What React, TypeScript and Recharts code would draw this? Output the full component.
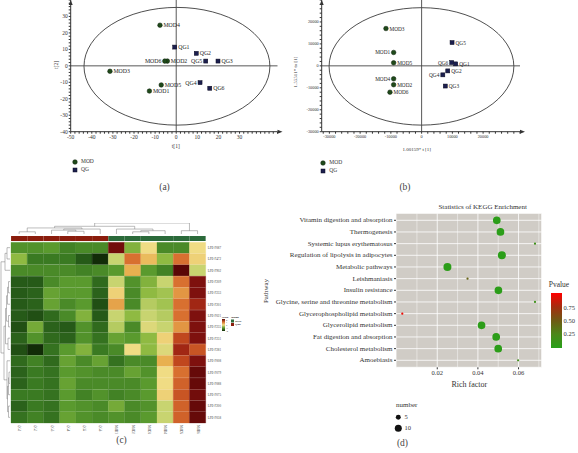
import React from 'react';
import {
  ScatterChart,
  Scatter,
  XAxis,
  YAxis,
  ZAxis,
  ReferenceLine,
  ReferenceArea,
  ReferenceDot,
  BarChart,
  Bar,
  Cell,
  LineChart,
  CartesianGrid,
} from 'recharts';

const SERIF = '"Liberation Serif", "DejaVu Serif", serif';

// ---------- (a) PCA scores t[1] / t[2]
const pcaAMod = [
  { name: 'MOD1', x: -12.7, y: -15.3 },
  { name: 'MOD2', x: -4.2, y: 2.9 },
  { name: 'MOD3', x: -31.4, y: -3.3 },
  { name: 'MOD4', x: -7.7, y: 24.7 },
  { name: 'MOD5', x: -7.1, y: -11.6 },
  { name: 'MOD6', x: -5.4, y: 2.9 },
];
const pcaAQg = [
  { name: 'QG1', x: -0.7, y: 11.4 },
  { name: 'QG2', x: 9.5, y: 7.6 },
  { name: 'QG3', x: 19.8, y: 2.9 },
  { name: 'QG4', x: 11.3, y: -10.2 },
  { name: 'QG5', x: 14.0, y: 2.9 },
  { name: 'QG6', x: 15.9, y: -13.6 },
];
const ellipseA = [-43.7, 44.4, -36, 35.5];
const leftLabelsA = ['MOD6', 'QG5', 'QG4'];

// ---------- (b) OPLS-DA scores
const pcaBMod = [
  { name: 'MOD1', x: -9100, y: 6100 },
  { name: 'MOD2', x: -9100, y: -8600 },
  { name: 'MOD3', x: -11600, y: 17000 },
  { name: 'MOD4', x: -9100, y: -5900 },
  { name: 'MOD5', x: -9100, y: 1400 },
  { name: 'MOD6', x: -10300, y: -12000 },
];
const pcaBQg = [
  { name: 'QG1', x: 11100, y: 900 },
  { name: 'QG2', x: 8500, y: -2300 },
  { name: 'QG3', x: 7700, y: -9200 },
  { name: 'QG4', x: 6900, y: -4100 },
  { name: 'QG5', x: 9900, y: 10600 },
  { name: 'QG6', x: 9800, y: 1500 },
];
const ellipseB = [-30100, 30000, -27000, 26500];
const leftLabelsB = ['MOD1', 'MOD4', 'QG6', 'QG4'];

// ---------- (c) heatmap
const heatCols = ['QG1', 'QG2', 'QG3', 'QG4', 'QG5', 'QG6', 'MOD1', 'MOD2', 'MOD3', 'MOD4', 'MOD5', 'MOD6'];
const heatGroups = ['QG', 'QG', 'QG', 'QG', 'QG', 'QG', 'MOD', 'MOD', 'MOD', 'MOD', 'MOD', 'MOD'];
const heatRows = [
  'LPE-F087', 'LPE-F472', 'LPE-F902', 'LPE-F209', 'LPE-F233', 'LPE-F201', 'LPE-F021', 'LPE-F235',
  'LPE-F231', 'LPE-F281', 'LPE-F008', 'LPE-F079', 'LPE-F088', 'LPE-F075', 'LPE-F200', 'LPE-F058',
];
const heatValues = [
  [-0.9, -0.9, -0.8, -1.1, -1.0, -1.0, 2.0, -0.5, 0.1, -1.0, -1.0, 0.1],
  [-0.4, -1.2, -1.2, -1.2, -1.6, -2.0, -0.1, 1.0, 0.4, -0.4, 1.0, 0.2],
  [-1.0, -1.0, -1.0, -1.0, -1.1, -1.0, -0.8, 0.5, -0.8, -1.1, 2.2, -0.1],
  [-1.6, -1.6, -1.0, -0.8, -0.8, -1.4, -0.1, -0.9, -0.5, -0.1, 1.0, 1.9],
  [-1.6, -1.5, -0.7, -0.8, -0.8, -1.5, 0.2, -1.0, -0.4, -0.3, 0.7, 1.9],
  [-1.6, -1.5, -0.7, -1.0, -0.8, -1.7, 0.6, -1.0, -0.2, -0.3, 1.0, 1.6],
  [-1.6, -1.7, -1.4, -1.0, -0.5, -1.6, -0.1, -0.4, -0.1, -0.2, 1.0, 1.9],
  [-1.7, -0.6, -1.5, -1.6, -0.9, -1.4, -0.2, -1.0, 0.0, -0.1, 0.7, 1.9],
  [-1.5, -0.9, -1.4, -1.5, -0.9, -1.3, -0.7, -0.8, -0.4, 0.2, 1.3, 1.9],
  [-1.7, -2.0, -1.3, -0.8, -0.5, -1.2, -1.0, 0.1, -0.4, 0.0, 1.6, 1.2],
  [-1.4, -1.1, -1.4, -0.7, -1.0, -0.7, -1.3, -1.0, -1.0, 0.5, 1.3, 1.9],
  [-1.5, -1.2, -1.3, -0.8, -0.9, -1.0, -1.0, -0.7, -0.9, 0.1, 1.0, 2.1],
  [-1.5, -1.2, -1.3, -0.7, -1.0, -1.0, -1.0, -1.0, -0.8, 0.1, 1.1, 2.1],
  [-1.2, -1.2, -1.3, -0.8, -1.1, -0.9, -1.1, -1.0, -0.8, 0.2, 1.2, 2.0],
  [-1.5, -1.2, -1.3, -0.8, -0.9, -1.0, -0.6, -1.0, -0.9, -0.1, 1.1, 2.1],
  [-1.3, -1.1, -1.3, -0.7, -0.9, -1.0, -0.9, -1.0, -0.8, -0.1, 1.1, 2.1],
];
// dendrogram merges: [childA, childB, height]; leaves are 0..n-1, merge k makes node n+k
const colMerges: [number, number, number][] = [
  [0, 1, 2], [3, 4, 2.5], [2, 13, 3.5], [14, 5, 4.5], [12, 15, 5.5],
  [7, 8, 2], [17, 9, 3], [6, 18, 4.5], [16, 19, 7], [10, 11, 3], [20, 21, 10],
];
const rowMerges: [number, number, number][] = [
  [0, 1, 3], [16, 2, 5], [3, 4, 1.5], [18, 5, 2.5], [6, 7, 1.5], [19, 20, 3.5],
  [8, 9, 2], [21, 22, 4.5], [11, 12, 1], [24, 13, 1.5], [14, 15, 1.5], [25, 26, 2.5],
  [10, 27, 3], [23, 28, 6], [17, 29, 9],
];

// ---------- (d) KEGG enrichment
const pathways = [
  'Vitamin digestion and absorption',
  'Thermogenesis',
  'Systemic lupus erythematosus',
  'Regulation of lipolysis in adipocytes',
  'Metabolic pathways',
  'Leishmaniasis',
  'Insulin resistance',
  'Glycine, serine and threonine metabolism',
  'Glycerophospholipid metabolism',
  'Glycerolipid metabolism',
  'Fat digestion and absorption',
  'Cholesterol metabolism',
  'Amoebiasis',
];
const richFactor = [0.0493, 0.0511, 0.0681, 0.0518, 0.025, 0.0349, 0.0501, 0.0681, 0.0028, 0.0418, 0.049, 0.05, 0.0598];
const geneNumber = [12, 12, 1, 13, 13, 1, 12, 1, 1, 12, 12, 12, 1];
const pValue = [0.03, 0.02, 0.15, 0.02, 0.03, 0.45, 0.03, 0.15, 0.95, 0.03, 0.03, 0.03, 0.18];

// ---------- helpers
type Stop = [number, number[]];
const rgb = (c: number[]) => `rgb(${c.map((x) => Math.round(x)).join(',')})`;
function lerpColor(stops: Stop[], v: number): string {
  if (v <= stops[0][0]) return rgb(stops[0][1]);
  for (let i = 1; i < stops.length; i++) {
    if (v <= stops[i][0]) {
      const [a, ca] = stops[i - 1];
      const [b, cb] = stops[i];
      const t = (v - a) / (b - a);
      return rgb(ca.map((c, k) => c + (cb[k] - c) * t));
    }
  }
  return rgb(stops[stops.length - 1][1]);
}

const heatStops: Stop[] = [
  [-2.0, [18, 44, 8]],
  [-1.6, [38, 90, 24]],
  [-1.2, [58, 122, 34]],
  [-0.8, [90, 154, 46]],
  [-0.4, [143, 186, 66]],
  [-0.1, [200, 212, 112]],
  [0.1, [240, 220, 132]],
  [0.5, [232, 176, 80]],
  [1.0, [216, 112, 48]],
  [1.4, [184, 58, 24]],
  [1.8, [138, 20, 16]],
  [2.2, [90, 6, 6]],
];
const pStops: Stop[] = [
  [0, [40, 160, 25]],
  [0.25, [75, 135, 25]],
  [0.5, [110, 90, 20]],
  [0.75, [165, 45, 15]],
  [1.0, [255, 0, 0]],
];
const heatColor = (v: number) => lerpColor(heatStops, v);
const pColor = (v: number) => lerpColor(pStops, v);
const groupColor = (g: string) => (g === 'MOD' ? '#2b6a3a' : '#8a1c0c');

function dendroSegments(n: number, merges: [number, number, number][]) {
  const pos: number[] = [];
  const hgt: number[] = [];
  for (let i = 0; i < n; i++) {
    pos.push(i + 0.5);
    hgt.push(0);
  }
  const segs: { p1: number; h1: number; p2: number; h2: number }[] = [];
  merges.forEach(([a, b, h]) => {
    segs.push({ p1: pos[a], h1: hgt[a], p2: pos[a], h2: h });
    segs.push({ p1: pos[a], h1: h, p2: pos[b], h2: h });
    segs.push({ p1: pos[b], h1: h, p2: pos[b], h2: hgt[b] });
    pos.push((pos[a] + pos[b]) / 2);
    hgt.push(h);
  });
  return segs;
}

function Txt({ x, y, size, children, rotate = 0, anchor = 'middle', color = '#333', weight = 400 }: any) {
  const tx = anchor === 'start' ? '0' : anchor === 'end' ? '-100%' : '-50%';
  return (
    <div
      style={{
        position: 'absolute',
        left: x,
        top: y,
        fontSize: size,
        lineHeight: 1,
        whiteSpace: 'nowrap',
        color,
        fontWeight: weight,
        transform: `translate(${tx}, -50%) rotate(${rotate}deg)`,
        transformOrigin: anchor === 'start' ? '0 50%' : '50% 50%',
      }}
    >
      {children}
    </div>
  );
}

const range = (a: number, b: number, step: number) => {
  const out: number[] = [];
  for (let v = a; v <= b + 1e-9; v += step) out.push(Math.round(v * 1000) / 1000);
  return out;
};

// ---------- score plot (a) and (b)
function ScorePlot(props: any) {
  const {
    left, width, height, yAxisWidth, rightMargin, xAxisHeight, xDomain, yDomain,
    xTicks, yTicks, fmt, mod, qg, leftLabels, ellipse, tickFont, labelFont,
  } = props;
  const axisTick = { fontSize: tickFont, fill: '#333', fontFamily: SERIF };
  const pointLabel = (cx: number, cy: number, name: string) => {
    const toLeft = leftLabels.includes(name);
    return (
      <text
        x={toLeft ? cx - 3.5 : cx + 3.5}
        y={cy}
        fontSize={labelFont}
        fontFamily={SERIF}
        fill="#222"
        textAnchor={toLeft ? 'end' : 'start'}
        dominantBaseline="central"
      >
        {name}
      </text>
    );
  };
  return (
    <div style={{ position: 'absolute', left, top: 0 }}>
      <ScatterChart width={width} height={height} margin={{ top: 0, right: rightMargin, bottom: 0, left: 0 }}>
        <XAxis
          type="number"
          dataKey="x"
          domain={xDomain}
          ticks={xTicks}
          interval={0}
          tickFormatter={fmt}
          tickSize={2}
          tickMargin={1}
          height={xAxisHeight}
          stroke="#333"
          tick={axisTick}
          allowDataOverflow
        />
        <YAxis
          type="number"
          dataKey="y"
          domain={yDomain}
          ticks={yTicks}
          interval={0}
          tickFormatter={fmt}
          tickSize={2}
          tickMargin={1}
          width={yAxisWidth}
          stroke="#333"
          tick={axisTick}
          allowDataOverflow
        />
        <ReferenceArea
          x1={ellipse[0]}
          x2={ellipse[1]}
          y1={ellipse[2]}
          y2={ellipse[3]}
          ifOverflow="visible"
          shape={(p: any) => (
            <ellipse
              cx={p.x + p.width / 2}
              cy={p.y + p.height / 2}
              rx={p.width / 2}
              ry={p.height / 2}
              fill="none"
              stroke="#222"
              strokeWidth={0.8}
            />
          )}
        />
        <ReferenceLine x={0} stroke="#444" strokeWidth={0.9} />
        <ReferenceLine y={0} stroke="#444" strokeWidth={0.9} />
        <ReferenceDot
          x={xDomain[1]}
          y={yDomain[0]}
          ifOverflow="visible"
          shape={(p: any) => <polygon points={`${p.cx},${p.cy - 2} ${p.cx + 5},${p.cy} ${p.cx},${p.cy + 2}`} fill="#333" />}
        />
        <ReferenceDot
          x={xDomain[0]}
          y={yDomain[1]}
          ifOverflow="visible"
          shape={(p: any) => <polygon points={`${p.cx - 2},${p.cy + 5} ${p.cx},${p.cy} ${p.cx + 2},${p.cy + 5}`} fill="#333" />}
        />
        <Scatter
          data={mod}
          isAnimationActive={false}
          shape={(p: any) => (
            <g>
              <circle cx={p.cx} cy={p.cy} r={2.3} fill="#1f4a1a" stroke="#0c1f0a" strokeWidth={0.5} />
              {pointLabel(p.cx, p.cy, p.payload.name)}
            </g>
          )}
        />
        <Scatter
          data={qg}
          isAnimationActive={false}
          shape={(p: any) => (
            <g>
              <rect x={p.cx - 2} y={p.cy - 2} width={4} height={4} fill="#1c1f4e" stroke="#0a0a20" strokeWidth={0.5} />
              {pointLabel(p.cx, p.cy, p.payload.name)}
            </g>
          )}
        />
      </ScatterChart>
    </div>
  );
}

function ScoreLegend({ x, y, size }: { x: number; y: number; size: number }) {
  return (
    <>
      <svg style={{ position: 'absolute', left: x - 3, top: y - 3 }} width={6} height={16}>
        <circle cx={3} cy={3} r={2.3} fill="#1f4a1a" stroke="#0c1f0a" strokeWidth={0.5} />
        <rect x={1} y={9} width={4} height={4} fill="#1c1f4e" stroke="#0a0a20" strokeWidth={0.5} />
      </svg>
      <Txt x={x + 6} y={y} size={size} anchor="start">MOD</Txt>
      <Txt x={x + 6} y={y + 8} size={size} anchor="start">QG</Txt>
    </>
  );
}

// ---------- heatmap (c)
const heatTable = heatRows.map((name) => {
  const row: any = { name };
  heatCols.forEach((_, ci) => (row[`c${ci}`] = 1));
  return row;
});
const groupTable = [heatCols.reduce((acc: any, _, ci) => ((acc[`c${ci}`] = 1), acc), { name: 'Group' })];

function Dendrogram({ segs, horizontal, width, height, left, top, posMax, hMax }: any) {
  return (
    <div style={{ position: 'absolute', left, top }}>
      <LineChart width={width} height={height} margin={{ top: 0, right: 0, bottom: 0, left: 0 }} data={[]}>
        <XAxis
          type="number"
          dataKey="x"
          hide
          domain={horizontal ? [0, posMax] : [0, hMax]}
          reversed={!horizontal}
          allowDataOverflow
        />
        <YAxis
          type="number"
          dataKey="y"
          hide
          domain={horizontal ? [0, hMax] : [0, posMax]}
          reversed={!horizontal}
          allowDataOverflow
        />
        {segs.map((s: any, i: number) => (
          <ReferenceLine
            key={i}
            ifOverflow="visible"
            stroke="#777"
            strokeWidth={0.5}
            segment={
              horizontal
                ? [{ x: s.p1, y: s.h1 }, { x: s.p2, y: s.h2 }]
                : [{ x: s.h1, y: s.p1 }, { x: s.h2, y: s.p2 }]
            }
          />
        ))}
      </LineChart>
    </div>
  );
}

function HeatColTick(props: any) {
  const { x, y, payload } = props;
  const label = heatCols[Math.floor(payload.value)];
  return (
    <text x={x} y={y} transform={`rotate(90 ${x} ${y})`} fontSize={3} fill="#444" textAnchor="start" dominantBaseline="central" fontFamily={SERIF}>
      {label}
    </text>
  );
}

function Heatmap() {
  const colSegs = dendroSegments(12, colMerges);
  const rowSegs = dendroSegments(16, rowMerges);
  return (
    <>
      <Dendrogram segs={colSegs} horizontal left={11} top={223} width={194.7} height={11} posMax={12} hMax={10} />
      <Dendrogram segs={rowSegs} horizontal={false} left={0} top={242.3} width={10} height={181} posMax={16} hMax={10} />
      <div style={{ position: 'absolute', left: 0, top: 235.7 }}>
        <BarChart width={230} height={5.3} layout="vertical" data={groupTable} barCategoryGap={0} margin={{ top: 0, right: 24.3, bottom: 0, left: 11 }}>
          <XAxis type="number" domain={[0, 12]} hide />
          <YAxis type="category" dataKey="name" hide />
          {heatCols.map((c, ci) => (
            <Bar key={c} dataKey={`c${ci}`} stackId="g" isAnimationActive={false}>
              <Cell fill={groupColor(heatGroups[ci])} />
            </Bar>
          ))}
        </BarChart>
      </div>
      <div style={{ position: 'absolute', left: 0, top: 230 }}>
        <BarChart width={230} height={215} layout="vertical" data={heatTable} barCategoryGap={0} barGap={0} margin={{ top: 12.3, right: 0, bottom: 0, left: 11 }}>
          <XAxis
            type="number"
            domain={[0, 12]}
            ticks={heatCols.map((_, i) => i + 0.5)}
            interval={0}
            height={21.7}
            axisLine={false}
            tickLine={false}
            tickSize={2}
            tickMargin={0}
            tick={<HeatColTick />}
          />
          <YAxis
            type="category"
            dataKey="name"
            orientation="right"
            width={24.3}
            axisLine={false}
            tickLine={false}
            tickSize={1}
            tickMargin={1}
            interval={0}
            tick={{ fontSize: 3.2, fill: '#444', fontFamily: SERIF }}
          />
          {heatCols.map((c, ci) => (
            <Bar key={c} dataKey={`c${ci}`} stackId="h" isAnimationActive={false}>
              {heatValues.map((row, ri) => (
                <Cell key={ri} fill={heatColor(row[ci])} stroke={heatColor(row[ci])} strokeWidth={0.3} />
              ))}
            </Bar>
          ))}
        </BarChart>
      </div>
      <svg style={{ position: 'absolute', left: 218, top: 313 }} width={40} height={22}>
        <defs>
          <linearGradient id="scaleGrad" x1="0" y1="0" x2="0" y2="1">
            <stop offset="0%" stopColor={heatColor(2.2)} />
            <stop offset="25%" stopColor={heatColor(1.0)} />
            <stop offset="50%" stopColor={heatColor(0.1)} />
            <stop offset="75%" stopColor={heatColor(-0.8)} />
            <stop offset="100%" stopColor={heatColor(-2)} />
          </linearGradient>
        </defs>
        <text x={4} y={4.5} fontSize={2.8} fontWeight={700} fill="#222" fontFamily={SERIF}>Scale</text>
        <rect x={4} y={6} width={3} height={12} fill="url(#scaleGrad)" />
        {['2', '1', '0', '-1', '-2'].map((t, i) => (
          <text key={t} x={8} y={7.2 + i * 2.7} fontSize={2.5} fill="#222" fontFamily={SERIF} dominantBaseline="central">{t}</text>
        ))}
        <text x={13} y={4.5} fontSize={2.8} fontWeight={700} fill="#222" fontFamily={SERIF}>Group</text>
        <rect x={13} y={6.5} width={3} height={3} fill={groupColor('MOD')} />
        <rect x={13} y={10} width={3} height={3} fill={groupColor('QG')} />
        <text x={17} y={8} fontSize={2.6} fontWeight={700} fill="#222" fontFamily={SERIF} dominantBaseline="central">MOD</text>
        <text x={17} y={11.5} fontSize={2.6} fontWeight={700} fill="#222" fontFamily={SERIF} dominantBaseline="central">QGK</text>
      </svg>
    </>
  );
}

// ---------- KEGG dot plot (d)
const keggData = pathways.map((name, i) => ({ name, x: richFactor[i], y: i, z: geneNumber[i], p: pValue[i] }));
const Z_MAX = 13;
const AREA_MAX = 50.3;
const keggRadius = (n: number) => Math.sqrt(((n / Z_MAX) * AREA_MAX) / Math.PI);

function PathwayTick(props: any) {
  const { x, y, payload } = props;
  return (
    <text x={x} y={y} textAnchor="end" dominantBaseline="central" fontSize={7} fill="#333" fontFamily={SERIF}>
      {pathways[payload.value] ?? ''}
    </text>
  );
}

function KeggPlot() {
  const tickFont = { fontSize: 6.5, fill: '#333', fontFamily: SERIF };
  return (
    <>
      <div style={{ position: 'absolute', left: 262, top: 200 }}>
        <ScatterChart width={316} height={200} margin={{ top: 13.3, right: 36.3, bottom: 0, left: 0 }}>
          <CartesianGrid fill="#d0ccc6" fillOpacity={1} stroke="#ffffff" strokeWidth={0.8} />
          <XAxis
            type="number"
            dataKey="x"
            domain={[-0.0003, 0.0714]}
            ticks={[0.02, 0.04, 0.06]}
            tickFormatter={(v: number) => v.toFixed(2)}
            axisLine={false}
            tickSize={2}
            tickMargin={1.5}
            tickLine={{ stroke: '#333' }}
            height={32.7}
            tick={tickFont}
            allowDataOverflow
          />
          <YAxis
            type="number"
            dataKey="y"
            domain={[-0.6, 12.6]}
            reversed
            ticks={pathways.map((_, i) => i)}
            interval={0}
            axisLine={false}
            tickSize={2}
            tickMargin={1.5}
            tickLine={{ stroke: '#333' }}
            width={134}
            tick={<PathwayTick />}
            allowDataOverflow
          />
          <ZAxis type="number" dataKey="z" domain={[0, Z_MAX]} range={[0, AREA_MAX]} />
          {[0.01, 0.03, 0.05, 0.07].map((v) => (
            <ReferenceLine key={v} x={v} stroke="#ffffff" strokeWidth={0.45} />
          ))}
          <Scatter data={keggData} isAnimationActive={false}>
            {keggData.map((d) => (
              <Cell key={d.name} fill={pColor(d.p)} />
            ))}
          </Scatter>
        </ScatterChart>
      </div>
      <Txt x={482.7} y={206.7} size={7}>Statistics of KEGG Enrichment</Txt>
      <Txt x={469.3} y={385} size={8}>Rich factor</Txt>
      <Txt x={266} y={291} size={7} rotate={-90}>Pathway</Txt>
      <Txt x={559} y={285} size={7.5}>Pvalue</Txt>
      <div
        style={{
          position: 'absolute',
          left: 550.7,
          top: 292.5,
          width: 11,
          height: 55.5,
          background: `linear-gradient(to top, ${pColor(0)}, ${pColor(0.25)} 25%, ${pColor(0.5)} 50%, ${pColor(0.75)} 75%, ${pColor(1)})`,
        }}
      />
      {[0.75, 0.5, 0.25].map((v) => (
        <Txt key={v} x={563.5} y={347.3 - v * 52} size={6.5} anchor="start">
          {v.toFixed(2)}
        </Txt>
      ))}
      <Txt x={406.7} y={405} size={7}>number</Txt>
      <svg style={{ position: 'absolute', left: 393, top: 412 }} width={12} height={22}>
        <circle cx={5.3} cy={5.3} r={keggRadius(5)} fill="#111" />
        <circle cx={5.3} cy={16.3} r={keggRadius(10)} fill="#111" />
      </svg>
      <Txt x={404.5} y={417.3} size={6.5} anchor="start">5</Txt>
      <Txt x={404.5} y={428.3} size={6.5} anchor="start">10</Txt>
    </>
  );
}

export default function App() {
  return (
    <div
      style={{
        position: 'absolute',
        left: 0,
        top: 0,
        width: 578,
        height: 453,
        background: '#fff',
        fontFamily: SERIF,
        overflow: 'hidden',
      }}
    >
      <ScorePlot
        left={0}
        width={290}
        height={145}
        yAxisWidth={70.7}
        rightMargin={12.5}
        xAxisHeight={13.3}
        xDomain={[-50, 48]}
        yDomain={[-40, 40]}
        xTicks={range(-50, 48, 2)}
        yTicks={range(-40, 40, 2)}
        fmt={(v: number) => (v % 10 === 0 && v < 40 ? String(v) : '')}
        mod={pcaAMod}
        qg={pcaAQg}
        leftLabels={leftLabelsA}
        ellipse={ellipseA}
        tickFont={5.5}
        labelFont={5.8}
      />
      <Txt x={175.8} y={146.7} size={5.5}>t[1]</Txt>
      <Txt x={57.3} y={65} size={5.5} rotate={-90}>t[2]</Txt>
      <ScoreLegend x={75} y={162} size={5.5} />
      <Txt x={164.5} y={188} size={9.5} color="#444">(a)</Txt>

      <ScorePlot
        left={290}
        width={288}
        height={145}
        yAxisWidth={31.7}
        rightMargin={58}
        xAxisHeight={13.3}
        xDomain={[-32500, 32000]}
        yDomain={[-30000, 30000]}
        xTicks={range(-32000, 32000, 2000)}
        yTicks={range(-30000, 30000, 2000)}
        fmt={(v: number) => (v % 10000 === 0 && v < 30000 ? String(v) : '')}
        mod={pcaBMod}
        qg={pcaBQg}
        leftLabels={leftLabelsB}
        ellipse={ellipseB}
        tickFont={4.3}
        labelFont={5.3}
      />
      <Txt x={416.7} y={148.7} size={5}>1.00159* t [1]</Txt>
      <Txt x={295} y={72} size={5} rotate={-90}>1.55511* to [1]</Txt>
      <ScoreLegend x={323.3} y={162.7} size={5.5} />
      <Txt x={405} y={188} size={9.5} color="#444">(b)</Txt>

      <Heatmap />
      <Txt x={121.5} y={441} size={9.5} color="#444">(c)</Txt>

      <KeggPlot />
      <Txt x={402.5} y={444} size={9.5} color="#444">(d)</Txt>
    </div>
  );
}
